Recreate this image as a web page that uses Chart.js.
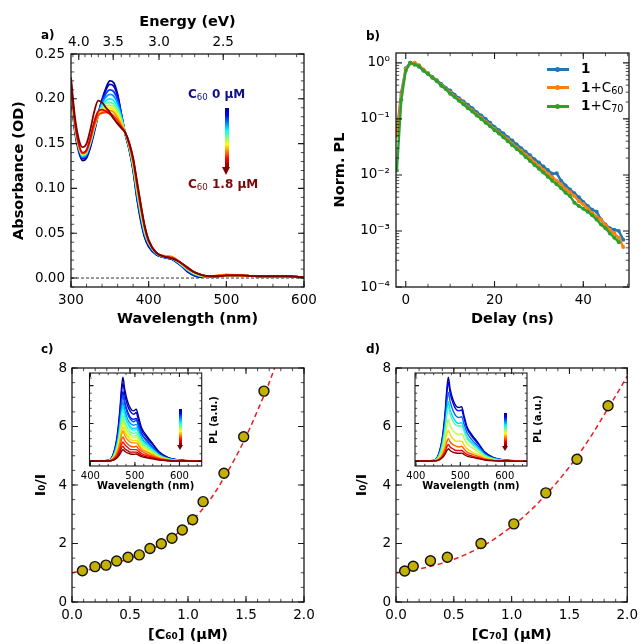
<!DOCTYPE html>
<html>
<head>
<meta charset="utf-8">
<script src="https://cdn.jsdelivr.net/npm/chart.js@4.4.1/dist/chart.umd.min.js"></script>
<style>
  body { margin: 0; background: #fff; font-family: "DejaVu Sans", sans-serif; }
  #page { position: relative; width: 643px; height: 644px; overflow: hidden; background: #fff; }
  canvas { position: absolute; left: 0; top: 0; }
  .t { position: absolute; white-space: nowrap; line-height: 1; color: #000; }
  .lab { font-weight: bold; font-size: 12px; }
  .t sub { font-size: 0.72em; font-weight: normal; vertical-align: -0.2em; line-height: 0; }
  .bar { position: absolute; background: linear-gradient(to bottom, #00009a 0%, #0000ff 12%, #00ffff 38%, #ffff00 62%, #ff0000 86%, #800000 100%); }
  .head { position: absolute; width: 0; height: 0; border-style: solid; border-color: #800000 transparent transparent transparent; }
  .ln { position: absolute; height: 3px; width: 22px; }
  .mk { position: absolute; width: 5px; height: 5px; border-radius: 50%; }
  .rot { position: absolute; font-weight: bold; font-size: 10px; white-space: nowrap; transform: translate(-50%, -50%) rotate(-90deg); }
</style>
</head>
<body>
<div id="page">
  <canvas id="chartA" width="643" height="644"></canvas>
  <canvas id="chartB" width="643" height="644"></canvas>
  <canvas id="chartC" width="643" height="644"></canvas>
  <canvas id="chartD" width="643" height="644"></canvas>
  <canvas id="insetC" width="643" height="644"></canvas>
  <canvas id="insetD" width="643" height="644"></canvas>

  <div class="t lab" style="left:41px;top:29px">a)</div>
  <div class="t lab" style="left:366px;top:30px">b)</div>
  <div class="t lab" style="left:41px;top:343px">c)</div>
  <div class="t lab" style="left:366px;top:343px">d)</div>

  <div class="t" style="left:188px;top:88px;font-size:12px;font-weight:bold;color:#101088">C<sub>60</sub> 0 µM</div>
  <div class="t" style="left:188px;top:178px;font-size:12px;font-weight:bold;color:#7a0a0a">C<sub>60</sub> 1.8 µM</div>
  <div class="bar" style="left:224.7px;top:108px;width:4px;height:59px"></div>
  <div class="head" style="left:222.2px;top:167px;border-width:8px 4.5px 0 4.5px"></div>

  <div class="bar" style="left:178.5px;top:409px;width:3px;height:36px"></div>
  <div class="head" style="left:176.5px;top:445px;border-width:5px 3.5px 0 3.5px"></div>
  <div class="bar" style="left:503.5px;top:412.5px;width:3px;height:33.5px"></div>
  <div class="head" style="left:501.5px;top:446px;border-width:5px 3.5px 0 3.5px"></div>
  <div class="rot" style="left:212.5px;top:420px">PL (a.u.)</div>
  <div class="rot" style="left:537px;top:419px">PL (a.u.)</div>

  <div class="ln" style="left:547px;top:68px;background:#1f77b4"></div>
  <div class="mk" style="left:555px;top:67px;background:#1f77b4"></div>
  <div class="t" style="left:581px;top:62px;font-size:13.5px"><b>1</b></div>
  <div class="ln" style="left:547px;top:86px;background:#ff7f0e"></div>
  <div class="mk" style="left:555px;top:85px;background:#ff7f0e"></div>
  <div class="t" style="left:581px;top:80.5px;font-size:13.5px"><b>1</b>+C<sub>60</sub></div>
  <div class="ln" style="left:547px;top:105px;background:#2ca02c"></div>
  <div class="mk" style="left:555px;top:104px;background:#2ca02c"></div>
  <div class="t" style="left:581px;top:99px;font-size:13.5px"><b>1</b>+C<sub>70</sub></div>
</div>

<script>
// ---- a) absorbance titration (C60 0 -> 1.8 uM) ----
const absWl = [300, 305, 310, 315, 320, 325, 330, 335, 340, 345, 350, 355, 360, 365, 370, 375, 380, 385, 390, 395,
  400, 410, 420, 430, 440, 450, 460, 470, 480, 490, 500, 520, 540, 560, 580, 600];
const absSpectra = [
  [0.205,0.163,0.141,0.131,0.134,0.146,0.163,0.182,0.199,0.212,0.220,0.218,0.205,0.182,0.160,0.143,0.120,0.088,0.063,0.045,0.035,0.026,0.023,0.021,0.015,0.007,0.002,0.001,0.001,0.002,0.003,0.003,0.002,0.002,0.002,0.001],
  [0.207,0.165,0.143,0.133,0.136,0.148,0.165,0.183,0.199,0.210,0.216,0.214,0.203,0.182,0.160,0.144,0.121,0.090,0.065,0.046,0.036,0.026,0.023,0.021,0.015,0.008,0.003,0.001,0.001,0.002,0.003,0.003,0.002,0.002,0.002,0.001],
  [0.208,0.166,0.144,0.134,0.137,0.149,0.166,0.183,0.197,0.206,0.210,0.208,0.199,0.181,0.161,0.145,0.123,0.092,0.067,0.048,0.037,0.027,0.023,0.021,0.016,0.008,0.003,0.002,0.001,0.002,0.003,0.003,0.002,0.002,0.002,0.001],
  [0.209,0.167,0.145,0.135,0.138,0.150,0.167,0.183,0.195,0.202,0.205,0.203,0.195,0.180,0.161,0.145,0.124,0.094,0.069,0.049,0.038,0.027,0.023,0.022,0.016,0.009,0.004,0.002,0.002,0.002,0.003,0.003,0.002,0.002,0.002,0.001],
  [0.210,0.168,0.146,0.136,0.139,0.151,0.167,0.182,0.193,0.198,0.200,0.198,0.191,0.178,0.161,0.146,0.125,0.096,0.071,0.050,0.039,0.027,0.024,0.022,0.016,0.009,0.004,0.002,0.002,0.002,0.003,0.003,0.002,0.002,0.002,0.001],
  [0.211,0.169,0.146,0.137,0.140,0.152,0.168,0.182,0.191,0.195,0.196,0.194,0.188,0.177,0.161,0.147,0.126,0.098,0.072,0.051,0.039,0.028,0.024,0.022,0.017,0.010,0.005,0.002,0.002,0.002,0.003,0.003,0.002,0.002,0.002,0.001],
  [0.212,0.170,0.147,0.138,0.141,0.153,0.169,0.182,0.189,0.192,0.193,0.191,0.185,0.175,0.162,0.147,0.127,0.099,0.074,0.053,0.040,0.028,0.024,0.023,0.017,0.010,0.005,0.002,0.002,0.002,0.003,0.003,0.002,0.002,0.002,0.001],
  [0.213,0.171,0.148,0.138,0.141,0.153,0.169,0.181,0.187,0.190,0.190,0.188,0.182,0.173,0.162,0.148,0.128,0.101,0.075,0.054,0.040,0.028,0.024,0.023,0.017,0.010,0.005,0.003,0.002,0.003,0.003,0.003,0.002,0.002,0.002,0.001],
  [0.214,0.172,0.148,0.139,0.142,0.154,0.170,0.181,0.185,0.187,0.187,0.185,0.179,0.171,0.162,0.148,0.129,0.102,0.077,0.055,0.041,0.028,0.025,0.024,0.018,0.011,0.006,0.003,0.002,0.003,0.004,0.003,0.002,0.002,0.002,0.001],
  [0.216,0.173,0.149,0.139,0.142,0.155,0.171,0.182,0.184,0.185,0.184,0.181,0.176,0.169,0.162,0.149,0.131,0.104,0.078,0.056,0.041,0.028,0.024,0.023,0.018,0.011,0.006,0.003,0.002,0.003,0.003,0.003,0.002,0.002,0.002,0.001],
  [0.219,0.175,0.150,0.140,0.143,0.157,0.175,0.186,0.188,0.186,0.183,0.178,0.173,0.168,0.162,0.150,0.133,0.106,0.080,0.057,0.042,0.028,0.024,0.022,0.018,0.011,0.006,0.003,0.002,0.002,0.003,0.003,0.002,0.002,0.002,0.001],
  [0.224,0.180,0.155,0.146,0.150,0.166,0.186,0.198,0.196,0.190,0.185,0.178,0.172,0.167,0.162,0.151,0.134,0.108,0.082,0.058,0.042,0.028,0.024,0.022,0.018,0.012,0.006,0.003,0.002,0.002,0.003,0.003,0.002,0.002,0.002,0.001]
];
const wlTicks = [300, 400, 500, 600];
const energyTicks = [4.0, 3.5, 3.0, 2.5];
const absTicks = [0, 0.05, 0.10, 0.15, 0.20, 0.25];

// ---- b) PL decays ----
const delayNs = [-2,-1,0,1,2,3,4,5,6,7,8,9,10,11,12,13,14,15,16,17,18,19,20,21,22,23,24,25,26,27,28,29,30,31,32,33,34,35,36,37,38,39,40,41,42,43,44,45,46,47,48,49];
const plPure = [0.06,0.3,0.8,1.0,0.98,0.85,0.74,0.65,0.56,0.49,0.42,0.36,0.32,0.27,0.234,0.204,0.178,0.155,0.132,0.115,0.1,0.085,0.072,0.063,0.055,0.047,0.041,0.035,0.030,0.026,0.0224,0.019,0.0166,0.0141,0.0123,0.0105,0.0107,0.0079,0.0065,0.0055,0.0047,0.004,0.0033,0.0028,0.0024,0.0022,0.0016,0.0013,0.00112,0.00105,0.001,0.0007];
const plC60 = [0.05,0.27,0.78,0.97,1.0,0.91,0.76,0.65,0.55,0.48,0.4,0.35,0.295,0.25,0.22,0.19,0.162,0.141,0.12,0.105,0.089,0.078,0.066,0.057,0.049,0.043,0.036,0.031,0.027,0.023,0.02,0.0166,0.0145,0.0123,0.0105,0.0091,0.0079,0.0068,0.0056,0.0049,0.0042,0.0034,0.003,0.0025,0.0021,0.0018,0.0016,0.00126,0.00105,0.0009,0.00076,0.00052];
const plC70 = [0.012,0.22,0.72,1.0,0.93,0.87,0.72,0.63,0.54,0.47,0.39,0.34,0.28,0.245,0.21,0.182,0.155,0.135,0.115,0.1,0.085,0.074,0.063,0.055,0.047,0.04,0.034,0.029,0.025,0.021,0.0178,0.0151,0.0129,0.011,0.0093,0.0079,0.0068,0.0058,0.0048,0.0042,0.0032,0.0028,0.0025,0.0022,0.0019,0.0016,0.0013,0.00112,0.0009,0.00076,0.00063];
const delayTicks = [0, 20, 40];
const logTicks = [1e-4, 1e-3, 1e-2, 1e-1, 1];
const logLabels = ['10⁻⁴', '10⁻³', '10⁻²', '10⁻¹', '10⁰'];

// ---- c) / d) Stern-Volmer ----
const c60Conc = [0.09,0.198,0.293,0.385,0.483,0.58,0.672,0.77,0.862,0.951,1.04,1.13,1.31,1.48,1.655];
const c60Ratio = [1.07,1.21,1.26,1.40,1.53,1.61,1.83,1.99,2.18,2.46,2.81,3.43,4.40,5.65,7.21];
const c70Conc = [0.075,0.149,0.298,0.444,0.735,1.019,1.296,1.565,1.834];
const c70Ratio = [1.06,1.22,1.41,1.53,2.0,2.67,3.73,4.88,6.71];
const fitConc = [0,0.1,0.2,0.3,0.4,0.5,0.6,0.7,0.8,0.9,1.0,1.1,1.2,1.3,1.4,1.5,1.6,1.7,1.8,1.9,2.0];
const c60Fit = [1.0,1.07,1.15,1.25,1.36,1.5,1.65,1.83,2.05,2.32,2.65,3.05,3.55,4.18,4.87,5.65,6.55,7.5,8.6];
const c70Fit = [1.0,1.06,1.13,1.22,1.33,1.46,1.62,1.81,2.03,2.29,2.58,2.9,3.27,3.68,4.13,4.62,5.16,5.75,6.4,7.05,7.72];
const concTicks = [0, 0.5, 1.0, 1.5, 2.0];
const ratioTicks = [0, 2, 4, 6, 8];

// ---- insets: PL spectra during titration ----
const insetWl = [398, 440, 452, 460, 466, 470, 473, 477, 483, 490, 497, 503, 508, 515, 527, 540, 555, 575, 600, 650];
const insetC60 = [
  [0.005,0.01,0.1,0.3,0.6,0.88,1.0,0.86,0.72,0.63,0.6,0.62,0.53,0.4,0.3,0.21,0.11,0.045,0.016,0.003],
  [0.005,0.01,0.09,0.28,0.56,0.82,0.93,0.8,0.67,0.59,0.56,0.58,0.49,0.37,0.28,0.2,0.1,0.042,0.015,0.003],
  [0.005,0.01,0.08,0.25,0.5,0.73,0.83,0.71,0.6,0.52,0.5,0.51,0.44,0.33,0.25,0.17,0.09,0.037,0.013,0.003],
  [0.005,0.01,0.08,0.24,0.47,0.7,0.79,0.68,0.57,0.5,0.47,0.49,0.42,0.32,0.24,0.17,0.087,0.036,0.013,0.003],
  [0.005,0.008,0.07,0.21,0.43,0.62,0.71,0.61,0.51,0.45,0.43,0.44,0.38,0.28,0.21,0.15,0.078,0.032,0.011,0.003],
  [0.005,0.008,0.065,0.2,0.39,0.57,0.65,0.56,0.47,0.41,0.39,0.4,0.34,0.26,0.2,0.14,0.072,0.029,0.01,0.003],
  [0.005,0.008,0.062,0.19,0.37,0.55,0.62,0.53,0.45,0.39,0.37,0.38,0.33,0.25,0.19,0.13,0.068,0.028,0.01,0.003],
  [0.005,0.007,0.055,0.17,0.33,0.48,0.55,0.47,0.4,0.35,0.33,0.34,0.29,0.22,0.17,0.12,0.06,0.025,0.009,0.003],
  [0.005,0.007,0.05,0.15,0.3,0.44,0.5,0.43,0.36,0.32,0.3,0.31,0.27,0.2,0.15,0.105,0.055,0.023,0.008,0.003],
  [0.005,0.007,0.046,0.14,0.28,0.4,0.46,0.4,0.33,0.29,0.28,0.29,0.24,0.18,0.14,0.097,0.051,0.021,0.007,0.003],
  [0.005,0.006,0.041,0.12,0.25,0.36,0.41,0.35,0.3,0.26,0.25,0.25,0.22,0.16,0.12,0.086,0.045,0.018,0.007,0.003],
  [0.005,0.006,0.036,0.11,0.22,0.32,0.36,0.31,0.26,0.23,0.22,0.22,0.19,0.14,0.11,0.076,0.04,0.016,0.006,0.003],
  [0.005,0.006,0.029,0.087,0.17,0.26,0.29,0.25,0.21,0.18,0.17,0.18,0.15,0.12,0.087,0.061,0.032,0.013,0.005,0.003],
  [0.005,0.005,0.023,0.069,0.14,0.2,0.23,0.2,0.17,0.14,0.14,0.14,0.12,0.092,0.069,0.048,0.025,0.01,0.004,0.003],
  [0.005,0.005,0.018,0.054,0.11,0.16,0.18,0.15,0.13,0.11,0.11,0.11,0.095,0.072,0.054,0.038,0.02,0.008,0.004,0.003],
  [0.005,0.005,0.014,0.042,0.084,0.12,0.14,0.12,0.1,0.088,0.084,0.087,0.074,0.056,0.042,0.029,0.015,0.007,0.004,0.003]
];
const insetC70 = [
  [0.005,0.01,0.1,0.3,0.6,0.88,1.0,0.86,0.74,0.66,0.64,0.65,0.55,0.41,0.31,0.22,0.11,0.045,0.016,0.003],
  [0.005,0.01,0.094,0.28,0.56,0.83,0.94,0.81,0.7,0.62,0.6,0.61,0.52,0.39,0.29,0.21,0.1,0.042,0.015,0.003],
  [0.005,0.009,0.082,0.25,0.49,0.72,0.82,0.71,0.61,0.54,0.52,0.53,0.45,0.34,0.25,0.18,0.09,0.037,0.013,0.003],
  [0.005,0.008,0.071,0.21,0.43,0.62,0.71,0.61,0.53,0.47,0.45,0.46,0.39,0.29,0.22,0.16,0.078,0.032,0.011,0.003],
  [0.005,0.008,0.065,0.2,0.39,0.57,0.65,0.56,0.48,0.43,0.42,0.42,0.36,0.27,0.2,0.14,0.072,0.029,0.01,0.003],
  [0.005,0.007,0.05,0.15,0.3,0.44,0.5,0.43,0.37,0.33,0.32,0.33,0.28,0.21,0.16,0.11,0.055,0.023,0.008,0.003],
  [0.005,0.006,0.037,0.11,0.22,0.33,0.37,0.32,0.27,0.24,0.24,0.24,0.2,0.15,0.11,0.081,0.041,0.017,0.006,0.003],
  [0.005,0.006,0.027,0.081,0.16,0.24,0.27,0.23,0.2,0.18,0.17,0.18,0.15,0.11,0.084,0.059,0.03,0.012,0.005,0.003],
  [0.005,0.005,0.02,0.06,0.12,0.18,0.2,0.17,0.15,0.13,0.13,0.13,0.11,0.082,0.062,0.044,0.022,0.009,0.004,0.003],
  [0.005,0.005,0.015,0.045,0.09,0.13,0.15,0.13,0.11,0.099,0.096,0.098,0.083,0.062,0.047,0.033,0.017,0.007,0.004,0.003]
];
const insetTicks = [400, 500, 600];

Chart.defaults.font.family = '"DejaVu Sans", sans-serif';
Chart.defaults.color = '#000';

// matplotlib-ish jet colours
function jet(v) {
  const c = x => Math.round(255 * Math.max(0, Math.min(1, x)));
  return `rgb(${c(1.5 - Math.abs(4 * v - 3))},${c(1.5 - Math.abs(4 * v - 2))},${c(1.5 - Math.abs(4 * v - 1))})`;
}

function steps(from, to, step) {
  const out = [];
  for (let v = from; v <= to + step / 1000; v += step) out.push(+v.toFixed(6));
  return out;
}

// box + inward ticks on every side, like the matplotlib style
function frameTicks(sides, small) {
  const major = small ? 4 : 6, minor = small ? 2.2 : 3.2;
  return {
    id: 'frameTicks',
    afterDatasetsDraw(chart) {
      const { ctx, chartArea: a, scales } = chart;
      ctx.save();
      ctx.strokeStyle = '#1a1a1a';
      for (const s of sides) {
        const sc = scales[s.scale];
        [[s.major, major, 1.1], [s.minor || [], minor, 0.8]].forEach(([vals, len, lw]) => {
          ctx.lineWidth = lw;
          ctx.beginPath();
          vals.forEach(v => {
            const p = sc.getPixelForValue(v);
            if (s.side === 'bottom' || s.side === 'top') {
              if (p < a.left - 0.5 || p > a.right + 0.5) return;
              const y0 = s.side === 'bottom' ? a.bottom : a.top;
              ctx.moveTo(p, y0);
              ctx.lineTo(p, s.side === 'bottom' ? y0 - len : y0 + len);
            } else {
              if (p < a.top - 0.5 || p > a.bottom + 0.5) return;
              const x0 = s.side === 'left' ? a.left : a.right;
              ctx.moveTo(x0, p);
              ctx.lineTo(s.side === 'left' ? x0 + len : x0 - len, p);
            }
          });
          ctx.stroke();
        });
      }
      ctx.lineWidth = small ? 1.1 : 1.3;
      ctx.strokeRect(a.left, a.top, a.right - a.left, a.bottom - a.top);
      ctx.restore();
    }
  };
}

function axis(o) {
  const horiz = o.position === 'bottom' || o.position === 'top';
  return {
    type: o.type || 'linear',
    position: o.position,
    display: o.display !== false,
    min: o.min,
    max: o.max,
    afterBuildTicks: s => { s.ticks = o.ticks.map(v => ({ value: v })); },
    afterFit: s => { if (horiz) s.height = o.size; else s.width = o.size; },
    grid: { display: false, drawTicks: false },
    border: { display: false },
    ticks: {
      autoSkip: false, maxRotation: 0, minRotation: 0, padding: o.pad,
      font: { size: o.fontSize || 13.5 }, callback: o.fmt
    },
    title: {
      display: !!o.title, text: o.title, padding: 0,
      font: { size: o.titleSize || 14.5, weight: 'bold' }
    }
  };
}

function options(padding, scales) {
  return {
    responsive: false, animation: false, devicePixelRatio: 1, events: [],
    layout: { padding },
    plugins: { legend: { display: false }, tooltip: { enabled: false } },
    scales
  };
}

// ---------- a) ----------
const absSets = absSpectra.map((row, i) => ({
  data: row.map((y, j) => ({ x: absWl[j], y })),
  borderColor: jet(i / (absSpectra.length - 1)),
  borderWidth: 1.8, pointRadius: 0, cubicInterpolationMode: 'monotone',
  order: absSpectra.length - 1 - i
}));
absSets.push({
  data: [{ x: 300, y: 0 }, { x: 600, y: 0 }],
  borderColor: '#000', borderWidth: 0.8, borderDash: [3, 2], pointRadius: 0, order: 99
});
new Chart(document.getElementById('chartA'), {
  type: 'line',
  data: { datasets: absSets },
  options: options({ left: 10.8, top: 14, right: 339, bottom: 316 }, {
    x: axis({ position: 'bottom', min: 300, max: 600, ticks: wlTicks, size: 41, pad: 5,
      fmt: v => String(v), title: 'Wavelength (nm)' }),
    x2: axis({ position: 'top', min: 300, max: 600, ticks: energyTicks.map(e => 1240 / e), size: 40, pad: 3,
      fmt: v => (1240 / v).toFixed(1), title: 'Energy (eV)' }),
    y: axis({ position: 'left', min: -0.01, max: 0.25, ticks: absTicks, size: 60.2, pad: 6,
      fmt: v => v.toFixed(2), title: 'Absorbance (OD)' })
  }),
  plugins: [frameTicks([
    { side: 'bottom', scale: 'x', major: wlTicks, minor: steps(300, 600, 20) },
    { side: 'top', scale: 'x', major: energyTicks.map(e => 1240 / e), minor: steps(2.1, 4.1, 0.1).map(e => 1240 / e) },
    { side: 'left', scale: 'y', major: absTicks, minor: steps(-0.01, 0.25, 0.01) },
    { side: 'right', scale: 'y', major: absTicks, minor: steps(-0.01, 0.25, 0.01) }
  ])]
});

// ---------- b) ----------
const logMinor = [];
logTicks.slice(0, -1).forEach(d => [2, 3, 4, 5, 6, 7, 8, 9].forEach(m => logMinor.push(d * m)));
const decaySet = (vals, color, order) => ({
  data: vals.map((y, j) => ({ x: delayNs[j], y })),
  borderColor: color, backgroundColor: color, borderWidth: 2.4,
  pointRadius: 2, pointBorderWidth: 0, tension: 0, order
});
new Chart(document.getElementById('chartB'), {
  type: 'line',
  data: { datasets: [decaySet(plPure, '#1f77b4', 2), decaySet(plC60, '#ff7f0e', 1), decaySet(plC70, '#2ca02c', 0)] },
  options: options({ left: 331.3, top: 53, right: 14, bottom: 316 }, {
    x: axis({ position: 'bottom', min: -2.2, max: 50.3, ticks: delayTicks, size: 41, pad: 5,
      fmt: v => String(v), title: 'Delay (ns)' }),
    y: axis({ type: 'logarithmic', position: 'left', min: 1e-4, max: 1.5, ticks: logTicks, size: 64.7, pad: 6,
      fmt: (v, i) => logLabels[i], title: 'Norm. PL' })
  }),
  plugins: [frameTicks([
    { side: 'bottom', scale: 'x', major: delayTicks, minor: steps(5, 50, 5) },
    { side: 'top', scale: 'x', major: delayTicks, minor: steps(5, 50, 5) },
    { side: 'left', scale: 'y', major: logTicks, minor: logMinor },
    { side: 'right', scale: 'y', major: logTicks, minor: logMinor }
  ])]
});

// ---------- c) and d) ----------
function sternVolmer(id, conc, ratio, fit, pad, yW, xTitle) {
  new Chart(document.getElementById(id), {
    type: 'line',
    data: {
      datasets: [
        { data: conc.map((x, j) => ({ x, y: ratio[j] })), showLine: false, pointRadius: 5,
          pointBackgroundColor: '#c4b000', pointBorderColor: '#111', pointBorderWidth: 1.4, order: 0 },
        { data: fit.map((y, j) => ({ x: fitConc[j], y })), borderColor: '#ee1c1c', borderWidth: 1.5,
          borderDash: [5, 3.5], pointRadius: 0, cubicInterpolationMode: 'monotone', order: 1 }
      ]
    },
    options: options(pad, {
      x: axis({ position: 'bottom', min: 0, max: 2, ticks: concTicks, size: 41.7, pad: 5,
        fmt: v => v.toFixed(1), title: xTitle }),
      y: axis({ position: 'left', min: 0, max: 8, ticks: ratioTicks, size: yW, pad: 5,
        fmt: v => String(v), title: 'I₀/I' })
    }),
    plugins: [frameTicks([
      { side: 'bottom', scale: 'x', major: concTicks, minor: steps(0, 2, 0.1) },
      { side: 'top', scale: 'x', major: concTicks, minor: steps(0, 2, 0.1) },
      { side: 'left', scale: 'y', major: ratioTicks, minor: steps(0, 8, 0.5) },
      { side: 'right', scale: 'y', major: ratioTicks, minor: steps(0, 8, 0.5) }
    ])]
  });
}
sternVolmer('chartC', c60Conc, c60Ratio, c60Fit, { left: 33, top: 368, right: 339, bottom: 0.3 }, 39, '[C₆₀] (µM)');
sternVolmer('chartD', c70Conc, c70Ratio, c70Fit, { left: 354, top: 368, right: 14, bottom: 0.3 }, 42, '[C₇₀] (µM)');

// ---------- insets ----------
function inset(id, spectra, pad) {
  new Chart(document.getElementById(id), {
    type: 'line',
    data: {
      datasets: spectra.map((row, i) => ({
        data: row.map((y, j) => ({ x: insetWl[j], y })),
        borderColor: jet(i / (spectra.length - 1)), borderWidth: 1.4, pointRadius: 0,
        cubicInterpolationMode: 'monotone', order: spectra.length - 1 - i
      }))
    },
    options: options(pad, {
      x: axis({ position: 'bottom', min: 398, max: 650, ticks: insetTicks, size: 26.7, pad: 4,
        fontSize: 10, titleSize: 10, fmt: v => String(v), title: 'Wavelength (nm)' }),
      y: axis({ position: 'left', display: false, min: -0.055, max: 1.05, ticks: [0, 0.45, 0.9], size: 0, pad: 0 })
    }),
    plugins: [frameTicks([
      { side: 'bottom', scale: 'x', major: insetTicks, minor: steps(400, 640, 20) },
      { side: 'top', scale: 'x', major: insetTicks, minor: steps(400, 640, 20) },
      { side: 'left', scale: 'y', major: [0, 0.45, 0.9], minor: steps(0, 1.0, 0.09) },
      { side: 'right', scale: 'y', major: [0, 0.45, 0.9], minor: steps(0, 1.0, 0.09) }
    ], true)]
  });
}
inset('insetC', insetC60, { left: 89.5, top: 373, right: 441.3, bottom: 151.3 });
inset('insetD', insetC70, { left: 415, top: 373, right: 116, bottom: 151.3 });
</script>
</body>
</html>
